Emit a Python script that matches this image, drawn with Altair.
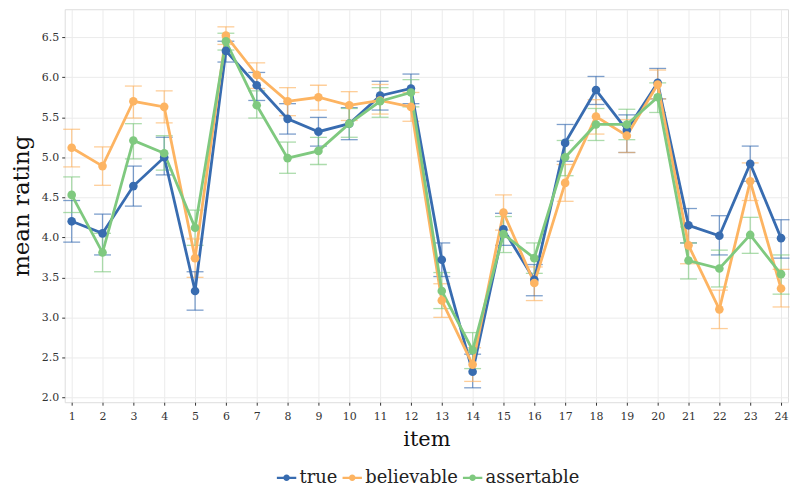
import altair as alt
import pandas as pd

items = list(range(1, 25))
series = ["true", "believable", "assertable"]
colors = ["#386cb0", "#fdb462", "#7fc97f"]

true_mean = [4.20, 4.05, 4.64, 5.00, 3.33, 6.33, 5.90, 5.48, 5.32, 5.42, 5.77, 5.86,
             3.72, 2.32, 4.10, 3.47, 5.18, 5.84, 5.34, 5.93, 4.15, 4.02, 4.92, 3.99]
true_lo = [3.94, 3.78, 4.39, 4.78, 3.09, 6.19, 5.71, 5.29, 5.14, 5.22, 5.59, 5.67,
           3.51, 2.12, 3.90, 3.27, 4.95, 5.66, 5.06, 5.73, 3.93, 3.78, 4.70, 3.74]
true_hi = [4.46, 4.29, 4.89, 5.25, 3.57, 6.45, 6.06, 5.67, 5.50, 5.62, 5.95, 6.04,
           3.93, 2.54, 4.30, 3.66, 5.41, 6.01, 5.53, 6.11, 4.36, 4.27, 5.14, 4.22]

bel_mean = [5.12, 4.89, 5.70, 5.63, 3.74, 6.52, 6.03, 5.70, 5.75, 5.65, 5.71, 5.63,
            3.21, 2.41, 4.31, 3.43, 4.68, 5.51, 5.27, 5.91, 3.90, 3.10, 4.70, 3.36]
bel_lo = [4.88, 4.65, 5.49, 5.43, 3.50, 6.41, 5.86, 5.52, 5.59, 5.46, 5.54, 5.45,
          3.00, 2.20, 4.09, 3.21, 4.45, 5.29, 5.06, 5.73, 3.67, 2.86, 4.46, 3.13]
bel_hi = [5.35, 5.13, 5.89, 5.83, 3.98, 6.63, 6.18, 5.87, 5.90, 5.82, 5.91, 5.81,
          3.42, 2.62, 4.53, 3.63, 4.91, 5.72, 5.47, 6.09, 4.13, 3.34, 4.93, 3.60]

ass_mean = [4.53, 3.81, 5.21, 5.05, 4.12, 6.45, 5.65, 4.99, 5.08, 5.42, 5.70, 5.81,
            3.33, 2.59, 4.04, 3.74, 5.00, 5.41, 5.41, 5.75, 3.71, 3.61, 4.03, 3.54]
ass_lo = [4.31, 3.57, 4.98, 4.84, 3.90, 6.34, 5.49, 4.80, 4.91, 5.25, 5.50, 5.63,
          3.11, 2.36, 3.81, 3.55, 4.77, 5.21, 5.22, 5.56, 3.48, 3.38, 3.80, 3.29]
ass_hi = [4.755, 4.05, 5.42, 5.27, 4.34, 6.55, 5.83, 5.19, 5.25, 5.61, 5.87, 5.97,
          3.56, 2.81, 4.26, 3.93, 5.21, 5.61, 5.60, 5.93, 3.93, 3.84, 4.25, 3.78]

rows = []
for name, m, lo, hi in [("true", true_mean, true_lo, true_hi),
                        ("believable", bel_mean, bel_lo, bel_hi),
                        ("assertable", ass_mean, ass_lo, ass_hi)]:
    for i, a, b, c in zip(items, m, lo, hi):
        rows.append({"item": i, "condition": name, "mean": a, "lo": b, "hi": c})
df = pd.DataFrame(rows)

FONT = "DejaVu Serif"
sym = ("M-1,-0.11H1V0.11H-1Z "
       "M-0.34,0A0.34,0.34 0 1 1 0.34,0A0.34,0.34 0 1 1 -0.34,0Z")

color = alt.Color(
    "condition:N",
    scale=alt.Scale(domain=series, range=colors),
    sort=series,
    legend=alt.Legend(
        title=None, orient="none", direction="horizontal",
        legendX=213, legendY=461,
        symbolType=sym, symbolSize=380, symbolStrokeWidth=0, symbolOpacity=1,
        labelFont=FONT, labelFontSize=18, labelColor="#222222",
        columnPadding=4, symbolOffset=0, labelOffset=3,
    ),
)

xscale = alt.Scale(domain=[0.774, 24.226], nice=False, zero=False)
yscale = alt.Scale(domain=[1.94, 6.85], nice=False, zero=False)

x = alt.X("item:Q", scale=xscale,
          axis=alt.Axis(values=items, title="item", format="d",
                        grid=True, gridColor="#ebebeb", gridWidth=1,
                        domain=False, tickSize=3, tickColor="#333333",
                        labelFont=FONT, labelFontSize=11, labelColor="#333333",
                        labelPadding=5, titleFont=FONT, titleFontSize=21,
                        titleFontWeight="normal", titleColor="#111111",
                        titlePadding=8))
y = alt.Y("mean:Q", scale=yscale,
          axis=alt.Axis(values=[2.0, 2.5, 3.0, 3.5, 4.0, 4.5, 5.0, 5.5, 6.0, 6.5],
                        format=".1f", title="mean rating",
                        grid=True, gridColor="#ebebeb", gridWidth=1,
                        domain=False, tickSize=3, tickColor="#333333",
                        labelFont=FONT, labelFontSize=11, labelColor="#333333",
                        labelPadding=3, titleFont=FONT, titleFontSize=23,
                        titleFontWeight="normal", titleColor="#111111",
                        titlePadding=8))

base = alt.Chart(df)

bars = base.mark_rule(strokeWidth=1.3, opacity=0.65).encode(
    x=x, y=alt.Y("lo:Q", scale=yscale), y2="hi:Q", color=color)
caps_lo = base.mark_tick(thickness=1.3, size=17, orient="horizontal", opacity=0.65).encode(
    x=x, y=alt.Y("lo:Q", scale=yscale), color=color)
caps_hi = base.mark_tick(thickness=1.3, size=17, orient="horizontal", opacity=0.65).encode(
    x=x, y=alt.Y("hi:Q", scale=yscale), color=color)
lines = base.mark_line(strokeWidth=2.8).encode(
    x=x, y=y, color=color, detail="condition:N")
points = base.mark_circle(size=75, opacity=1).encode(
    x=x, y=y, color=color)

chart = alt.layer(bars, caps_lo, caps_hi, lines, points).properties(
    width=727, height=395,
    padding={"left": 2, "top": 0, "right": 0, "bottom": 0},
).configure_view(stroke=None).configure(background="white", font=FONT)

chart.save("out.html", embed_options={"renderer": "svg", "actions": False})
